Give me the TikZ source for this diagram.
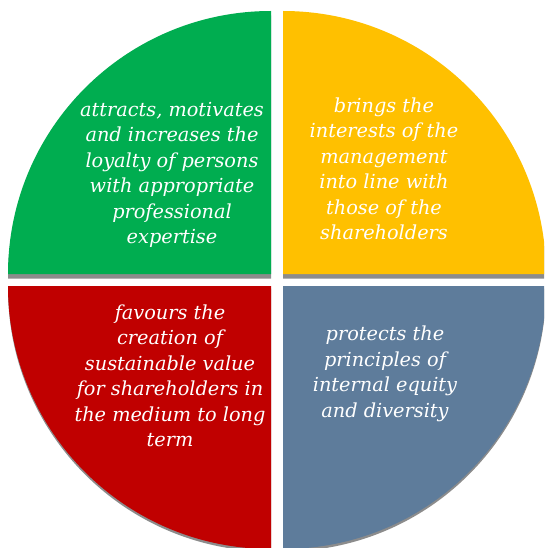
\documentclass[tikz,border=0pt]{standalone}
\usepackage{fontspec}
\newfontfamily\qfont{DejaVu Serif}
\definecolor{qgreen}{RGB}{0,173,80}
\definecolor{qyellow}{RGB}{255,192,0}
\definecolor{qred}{RGB}{192,0,0}
\definecolor{qblue}{RGB}{94,124,155}
\definecolor{qshadow}{RGB}{140,140,140}
\tikzset{
  quarter/.style={draw=none},
  qshade/.style={fill=qshadow,draw=none},
  qtext/.style={text=white,align=center,inner sep=0pt,
    font=\qfont\itshape\fontsize{19.3}{25.5}\selectfont}
}
\begin{document}
\begin{tikzpicture}[x=1pt,y=1pt]
\useasboundingbox (0,0) rectangle (544,-548);
\clip (0,0) rectangle (544,-548);
% shadows
\fill[qshade,yshift=-4.5pt] (271,-274) -- (8,-274) arc[start angle=180,end angle=90,radius=263] -- cycle;
\fill[qshade,yshift=-4.5pt] (283,-11) arc[start angle=90,end angle=0,radius=263] -- (283,-274) -- cycle;
\fill[qshade,yshift=-2.5pt] (271,-286) -- (8,-286) arc[start angle=180,end angle=270,radius=263] -- cycle;
\fill[qshade,yshift=-2.5pt] (283,-286) -- (546,-286) arc[start angle=0,end angle=-90,radius=263] -- cycle;
% quarters
\fill[qgreen] (271,-274) -- (8,-274) arc[start angle=180,end angle=90,radius=263] -- cycle;
\fill[qyellow] (283,-11) arc[start angle=90,end angle=0,radius=263] -- (283,-274) -- cycle;
\fill[qred] (271,-286) -- (8,-286) arc[start angle=180,end angle=270,radius=263] -- cycle;
\fill[qblue] (283,-286) -- (546,-286) arc[start angle=0,end angle=-90,radius=263] -- cycle;
% texts
\node[qtext] (tg) at (172,-175) {attracts, motivates\\and increases the\\loyalty of persons\\with appropriate\\professional\\expertise};
\node[qtext] (ty) at (384,-169) {brings the\\interests of the\\management\\into line with\\those of the\\shareholders};
\node[qtext] (tr) at (170,-376) {favours the\\creation of\\sustainable value\\for shareholders in\\the medium to long\\term};
\node[qtext] (tb) at (385,-374) {protects the\\principles of\\internal equity\\and diversity};
\end{tikzpicture}
\end{document}
